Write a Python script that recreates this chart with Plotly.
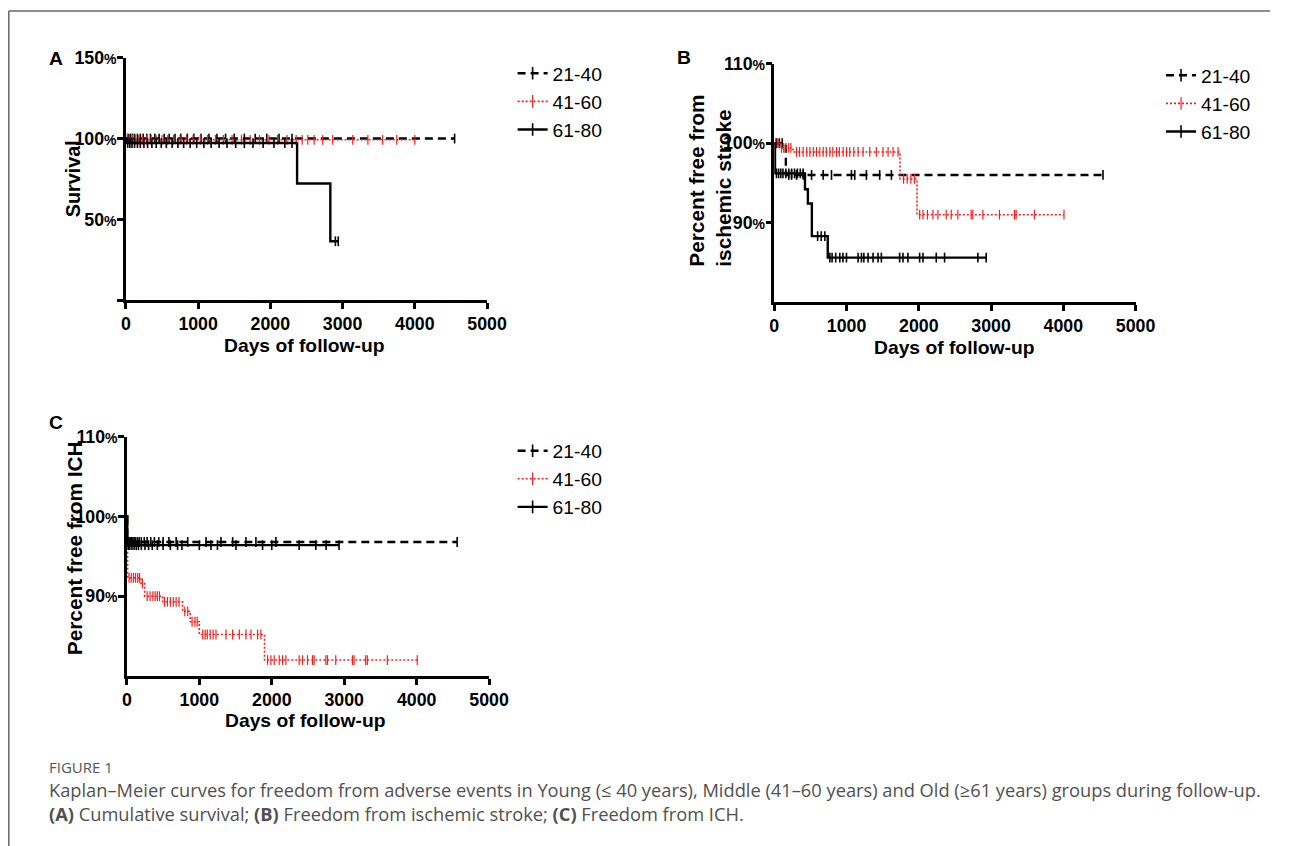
import numpy as np
import plotly.graph_objects as go

W, H = 1290, 846

groups = ["21-40", "41-60", "61-80"]

# ---------------- Panel A: cumulative survival (%) ----------------
A_2140_t = [0, 4550]
A_2140_s = [100, 100]
A_2140_c = [30, 60, 90, 120, 160, 200, 240, 290, 340, 400, 460, 530, 600, 680, 760, 850,
            940, 1040, 1150, 1260, 1380, 1500, 1640, 1790, 1950, 2120, 2300, 4550]

A_4160_t = [0, 40, 4000]
A_4160_s = [100, 99.2, 99.2]
A_4160_c = [20, 50, 90, 130, 180, 230, 290, 350, 420, 500, 580, 660, 750, 840, 930, 1030,
            1130, 1240, 1350, 1470, 1600, 1720, 1850, 1980, 2100, 2230, 2357, 2440, 2518,
            2606, 2725, 2863, 3140, 3350, 3554, 3750, 4000]

A_6180_t = [0, 15, 2370, 2830, 2940]
A_6180_s = [100, 97.2, 72.2, 36.4, 36.4]
A_6180_c = [25, 55, 85, 120, 160, 200, 250, 300, 360, 420, 490, 560, 640, 720, 800, 890,
            980, 1080, 1180, 1290, 1400, 1520, 1640, 1760, 1900, 2050, 2200, 2300, 2900, 2940]

# ---------------- Panel B: freedom from ischemic stroke (%) ----------------
B_2140_t = [0, 160, 4550]
B_2140_s = [100, 96.0, 96.0]
B_2140_c = [30, 70, 110, 200, 239, 308, 400, 516, 677, 792, 1068, 1114, 1275, 1459, 1621, 4550]

B_4160_t = [0, 80, 260, 1740, 1975, 4010]
B_4160_s = [100, 99.4, 98.9, 95.5, 91.0, 91.0]
B_4160_c = [20, 50, 100, 130, 160, 200, 230, 308, 350, 400, 450, 493, 540, 585, 630, 677,
            720, 769, 810, 861, 900, 953, 1000, 1045, 1100, 1160, 1229, 1321, 1413, 1505,
            1575, 1644, 1713, 1790, 1840, 1890, 1940, 2012, 2058, 2120, 2196, 2265, 2380,
            2449, 2541, 2725, 2748, 2887, 3117, 3324, 3347, 3600, 4010]

B_6180_t = [0, 10, 425, 465, 520, 740, 2933]
B_6180_s = [100, 96.2, 94.2, 92.4, 88.3, 85.6, 85.6]
B_6180_c = [30, 60, 90, 120, 160, 200, 240, 280, 320, 360, 400, 600, 650, 700, 769, 800,
            850, 907, 950, 999, 1160, 1206, 1240, 1298, 1367, 1436, 1482, 1735, 1781, 1850,
            2012, 2058, 2242, 2357, 2818, 2933]

# ---------------- Panel C: freedom from ICH (%) ----------------
C_2140_t = [0, 5, 4559]
C_2140_s = [100, 96.8, 96.8]
C_2140_c = [15, 30, 45, 60, 80, 100, 120, 145, 170, 200, 240, 280, 330, 380, 440, 500, 580,
            680, 840, 1093, 1299, 1460, 1644, 1781, 2057, 4559]

C_4160_t = [0, 10, 195, 245, 495, 770, 875, 1000, 1900, 4008]
C_4160_s = [100, 92.3, 91.6, 90.0, 89.3, 88.1, 86.8, 85.2, 82.0, 82.0]
C_4160_c = [30, 60, 90, 120, 150, 175, 215, 280, 320, 360, 390, 420, 450, 520, 560, 600, 640,
            680, 720, 800, 840, 900, 940, 970, 1047, 1080, 1110, 1150, 1190, 1230, 1368,
            1460, 1552, 1644, 1713, 1804, 1850, 1942, 1988, 2034, 2103, 2149, 2195, 2378,
            2424, 2493, 2562, 2585, 2746, 2769, 2883, 3113, 3136, 3296, 3319, 3595, 4008]

C_6180_t = [0, 5, 2929]
C_6180_s = [100, 96.4, 96.4]
C_6180_c = [20, 40, 70, 100, 130, 160, 200, 250, 300, 350, 420, 500, 600, 700, 760, 1000,
            1161, 1250, 1506, 1873, 2000, 2378, 2608, 2750, 2929]

x_ticks = [0, 1000, 2000, 3000, 4000, 5000]
A_yticks = [0, 50, 100, 150]
B_yticks = [90, 100, 110]
C_yticks = [90, 100, 110]

# ---------------- helpers ----------------
# the photographed page is slightly scaled/offset; place items so they land on target pixels
SX, OX = 0.98, 6.2
SY, OY = 0.991, 9.1
FS = 1.015

def px_x(p):
    return ((p - OX) / SX) / W

def px_y(p):
    return 1 - ((p - OY) / SY) / H

def surv_at(times, surv, c):
    idx = np.searchsorted(np.asarray(times), np.asarray(c), side="right") - 1
    return np.asarray(surv)[idx]

STY = {
    "21-40": dict(color="black", dash="8px,5px", width=2.4),
    "41-60": dict(color="#ff1a1a", dash="2px,2px", width=1.6),
    "61-80": dict(color="black", dash="solid", width=2.4),
}

fig = go.Figure()

panels = [
    ("x", "y", "legend", [(A_2140_t, A_2140_s, A_2140_c), (A_4160_t, A_4160_s, A_4160_c),
                          (A_6180_t, A_6180_s, A_6180_c)]),
    ("x2", "y2", "legend2", [(B_2140_t, B_2140_s, B_2140_c), (B_4160_t, B_4160_s, B_4160_c),
                             (B_6180_t, B_6180_s, B_6180_c)]),
    ("x3", "y3", "legend3", [(C_2140_t, C_2140_s, C_2140_c), (C_4160_t, C_4160_s, C_4160_c),
                             (C_6180_t, C_6180_s, C_6180_c)]),
]

for xa, ya, lg, series in panels:
    for g, (t, s, c) in zip(groups, series):
        st = STY[g]
        fig.add_trace(go.Scatter(
            x=t, y=s, mode="lines", line_shape="hv",
            line=dict(color=st["color"], dash=st["dash"], width=st["width"]),
            xaxis=xa, yaxis=ya, showlegend=False, hoverinfo="skip"))
        fig.add_trace(go.Scatter(
            x=c, y=surv_at(t, s, c), mode="markers",
            marker=dict(symbol="line-ns", size=7,
                        line=dict(color=st["color"], width=1.6 if g != "41-60" else 1.2)),
            xaxis=xa, yaxis=ya, showlegend=False, hoverinfo="skip", cliponaxis=False))
    # legend-only entries
    for g in groups:
        st = STY[g]
        fig.add_trace(go.Scatter(
            x=[None], y=[None], mode="lines+markers", name=g,
            line=dict(color=st["color"], dash=st["dash"], width=st["width"]),
            marker=dict(symbol="line-ns", size=9,
                        line=dict(color=st["color"], width=1.6 if g != "41-60" else 1.2)),
            xaxis=xa, yaxis=ya, legend=lg, showlegend=True))

FONT = "Liberation Sans, Arial, sans-serif"

def ylabels(vals, blank_zero=False):
    out = []
    for v in vals:
        if blank_zero and v == 0:
            out.append("")
        else:
            out.append(f"{v}<span style='font-size:14px'>%</span>")
    return out

axis_common = dict(showline=True, linecolor="black", linewidth=2.5, ticks="outside",
                   ticklen=6, tickwidth=2.5, tickcolor="black", showgrid=False,
                   zeroline=False, mirror=False,
                   tickfont=dict(family=FONT, size=17.5 * FS, color="black", weight="bold"))

# domains from pixel geometry
A_dom_x = [px_x(127), px_x(488)]
A_dom_y = [px_y(300), px_y(57)]
B_dom_x = [px_x(775), px_x(1136)]
B_dom_y = [px_y(302), px_y(63)]
C_dom_x = [px_x(128), px_x(490)]
C_dom_y = [px_y(677), px_y(437)]

fig.update_layout(
    width=W, height=H, margin=dict(l=0, r=0, t=0, b=0), autosize=False,
    paper_bgcolor="white", plot_bgcolor="white",
    xaxis=dict(domain=A_dom_x, range=[0, 5000], tickvals=x_ticks, anchor="y", **axis_common),
    yaxis=dict(domain=A_dom_y, range=[0, 150], tickvals=A_yticks,
               ticktext=ylabels(A_yticks, True), anchor="x", ticklabelstandoff=-3,
               **axis_common),
    xaxis2=dict(domain=B_dom_x, range=[0, 5000], tickvals=x_ticks, anchor="y2", **axis_common),
    yaxis2=dict(domain=B_dom_y, range=[80, 110], tickvals=B_yticks,
                ticktext=ylabels(B_yticks), anchor="x2", ticklabelstandoff=-3, **axis_common),
    xaxis3=dict(domain=C_dom_x, range=[0, 5000], tickvals=x_ticks, anchor="y3", **axis_common),
    yaxis3=dict(domain=C_dom_y, range=[80, 110], tickvals=C_yticks,
                ticktext=ylabels(C_yticks), anchor="x3", ticklabelstandoff=-3, **axis_common),
    showlegend=True,
)

leg_common = dict(font=dict(family=FONT, size=19 * FS, color="black"), bgcolor="rgba(0,0,0,0)",
                  xanchor="left", yanchor="top", tracegroupgap=0, itemwidth=30,
                  traceorder="normal")
fig.update_layout(
    legend=dict(x=px_x(513.5), y=px_y(53.5), **leg_common),
    legend2=dict(x=px_x(1161.5), y=px_y(55.5), **leg_common),
    legend3=dict(x=px_x(513.5), y=px_y(432), **leg_common),
)

ann = []
def text(x, y, s, size, bold=False, angle=0, xanchor="center", color="black", family=FONT):
    ann.append(dict(x=px_x(x), y=px_y(y), xref="paper", yref="paper", text=s,
                    showarrow=False, textangle=angle, xanchor=xanchor, yanchor="middle",
                    align="left",
                    font=dict(family=family, size=size * FS, color=color,
                              weight="bold" if bold else "normal")))

# panel letters
text(57, 58, "A", 19, bold=True)
text(685, 57, "B", 19, bold=True)
text(57, 423, "C", 19, bold=True)
# axis titles
text(306, 346, "Days of follow-up", 19, bold=True)
text(955, 348, "Days of follow-up", 19, bold=True)
text(307, 722, "Days of follow-up", 19, bold=True)
text(75, 178, "Survival", 19.5, bold=True, angle=-90)
text(711, 180, "Percent free from<br>ischemic stroke", 20.5, bold=True, angle=-90)
text(76, 549, "Percent free from ICH", 20.5, bold=True, angle=-90)

# caption (single block so lines do not collide)
CAP = "Open Sans, Lato, sans-serif"
caption = ("<span style='font-size:15px;color:#555555'>FIGURE 1</span><br>"
           "Kaplan–Meier curves for freedom from adverse events in Young (≤ 40 years), "
           "Middle (41–60 years) and Old (≥61 years) groups during follow-up.<br>"
           "<b>(A)</b> Cumulative survival; <b>(B)</b> Freedom from ischemic stroke; "
           "<b>(C)</b> Freedom from ICH.")
text(48, 793, caption, 18, xanchor="left", color="#505050", family=CAP)

fig.update_layout(annotations=ann)

# frame lines
fig.add_shape(type="line", xref="paper", yref="paper", x0=px_x(10), y0=px_y(10), x1=1, y1=px_y(10),
              line=dict(color="#666666", width=1.5))
fig.add_shape(type="line", xref="paper", yref="paper", x0=px_x(10), y0=px_y(10), x1=px_x(10), y1=0,
              line=dict(color="#666666", width=1.5))

post = ("var de=document.documentElement;de.style.margin='0';de.style.padding='0';"
        "de.style.overflow='hidden';de.style.width='1290px';de.style.height='846px';"
        "document.body.style.margin='0';document.body.style.padding='0';"
        "document.body.style.overflow='hidden';"
        "document.body.style.width='1290px';document.body.style.height='846px';"
        "var gd=document.getElementById('{plot_id}');"
        "gd.style.position='fixed';gd.style.left='0px';gd.style.top='0px';"
        "gd.style.margin='0';")

fig.write_html("out.html", post_script=post,
               config={"displayModeBar": False, "responsive": False})
